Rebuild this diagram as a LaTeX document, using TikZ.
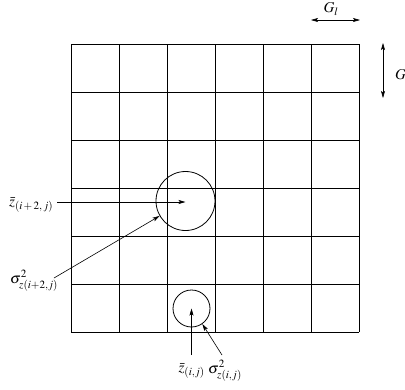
\documentclass[tikz,border=0pt]{standalone}
\usepackage{mathptmx}
\usepackage{fontspec}
\setmainfont{Liberation Serif}
\usetikzlibrary{arrows.meta}
\begin{document}
\begin{tikzpicture}[x=1pt,y=-1pt,
  gridline/.style={line width=0.8pt},
  ptr/.style={line width=0.6pt,-{Stealth[length=7pt,width=4pt,inset=1.5pt]}},
  dbl/.style={line width=0.6pt,{Stealth[length=7pt,width=4pt,inset=1.5pt]}-{Stealth[length=7pt,width=4pt,inset=1.5pt]}},
  lbl/.style={inner sep=0pt,font=\fontsize{15}{17}\selectfont},
  circ/.style={circle,draw,line width=0.8pt,inner sep=0pt}]
\useasboundingbox (0,0) rectangle (405,389);
% grid
\foreach \i in {0,...,6}{
  \draw[gridline] (71+48*\i,44) -- (71+48*\i,332);
  \draw[gridline] (71,44+48*\i) -- (359,44+48*\i);
}
% circles
\node[circ,minimum size=59pt] (big) at (185.5,201) {};
\node[circ,minimum size=37pt] (small) at (191.5,308.5) {};
% labels
\node[lbl,anchor=west] (zb) at (9,205) {$\bar{z}_{(i\,+\,2,\,j)}$};
\node[lbl,anchor=west] (sb) at (10,281) {$\sigma^2_{z(i+2,j)}$};
\node[lbl,anchor=east] (zs) at (205,371) {$\bar{z}_{(i,j)}$};
\node[lbl,anchor=west] (ss) at (208,371) {$\sigma^2_{z(i,j)}$};
\node[lbl] (gl) at (331,9) {$G_l$};
\node[lbl,anchor=west] (g) at (395,75) {$G$};
% arrows
\coordinate (zbs) at (57,202);
\draw[ptr] (zbs) -- (big.center |- zbs);
\coordinate (sbs) at (54,278);
\draw[ptr] (sbs) -- (big.-150);
\coordinate (zss) at (191.5,355);
\draw[ptr] (zss) -- (small.center);
\coordinate (sss) at (222,355);
\draw[ptr] (sss) -- (small.-55);
\coordinate (gla) at (311,20);
\coordinate (glb) at (360,20);
\draw[dbl] (gla) -- (glb);
\coordinate (gva) at (383,43);
\coordinate (gvb) at (383,98);
\draw[dbl] (gva) -- (gvb);
\end{tikzpicture}
\end{document}
